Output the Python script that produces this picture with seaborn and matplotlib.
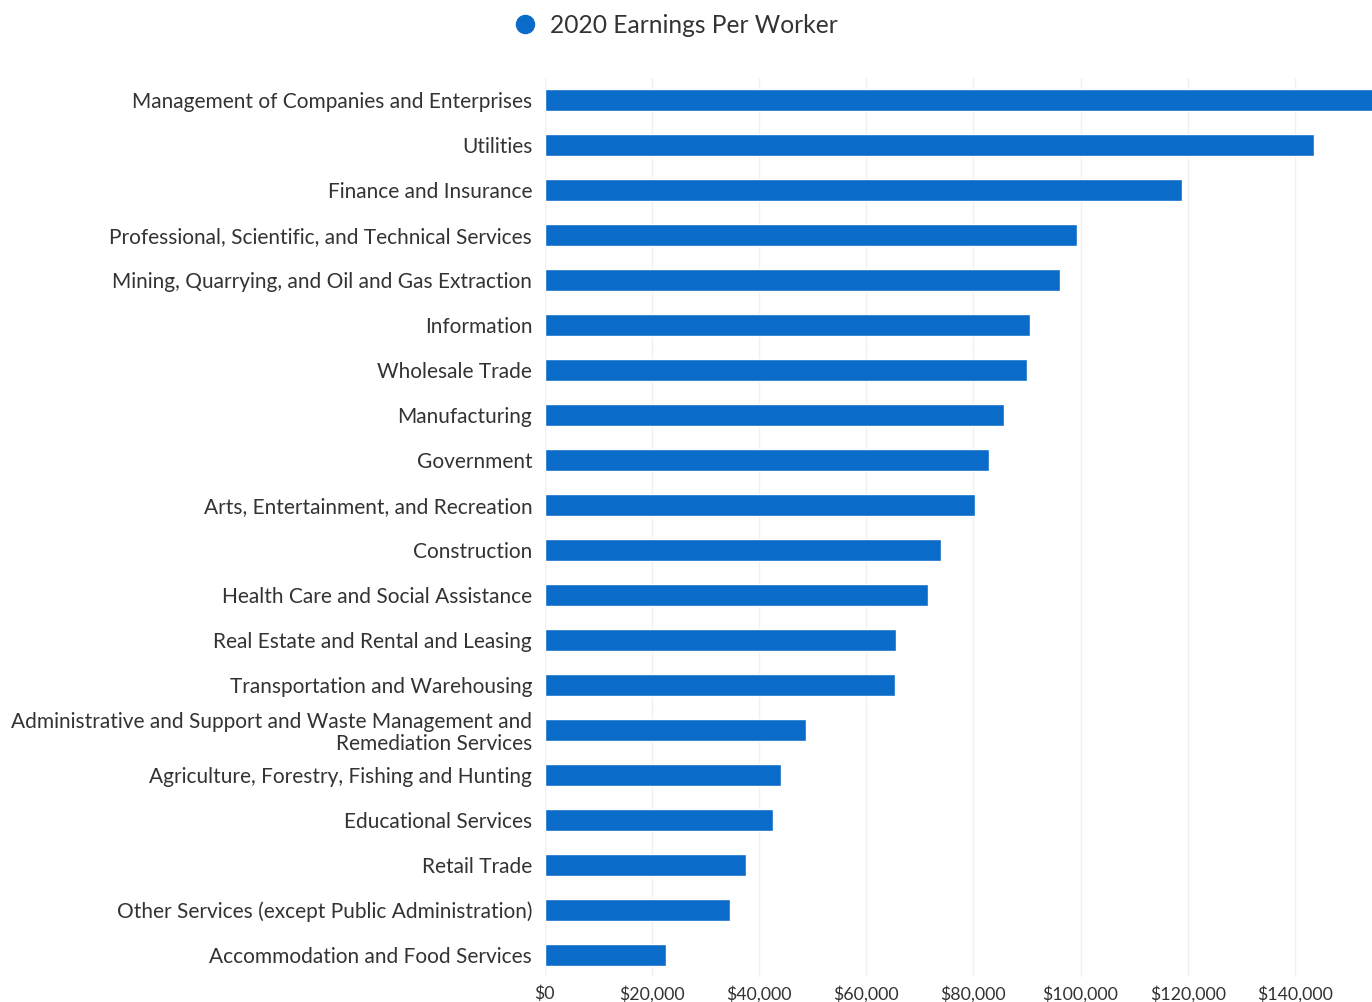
import matplotlib
matplotlib.use("Agg")
import matplotlib.pyplot as plt
from matplotlib.ticker import FuncFormatter
from matplotlib.lines import Line2D
import seaborn as sns
import pandas as pd

industries = [
    "Management of Companies and Enterprises",
    "Utilities",
    "Finance and Insurance",
    "Professional, Scientific, and Technical Services",
    "Mining, Quarrying, and Oil and Gas Extraction",
    "Information",
    "Wholesale Trade",
    "Manufacturing",
    "Government",
    "Arts, Entertainment, and Recreation",
    "Construction",
    "Health Care and Social Assistance",
    "Real Estate and Rental and Leasing",
    "Transportation and Warehousing",
    "Administrative and Support and Waste Management and\nRemediation Services",
    "Agriculture, Forestry, Fishing and Hunting",
    "Educational Services",
    "Retail Trade",
    "Other Services (except Public Administration)",
    "Accommodation and Food Services",
]
earnings = [
    158000, 143500, 119000, 99300, 96100, 90500, 90100, 85700, 83000, 80400,
    73900, 71500, 65500, 65300, 48800, 44100, 42700, 37600, 34600, 22700,
]
x_ticks = [0, 20000, 40000, 60000, 80000, 100000, 120000, 140000]
series_name = "2020 Earnings Per Worker"

df = pd.DataFrame({"industry": industries, "earnings": earnings})

sns.set_theme(style="white")
plt.rcParams["font.family"] = ["Lato", "DejaVu Sans"]

bar_color = "#0a6bc8"
text_color = "#333333"

fig = plt.figure(figsize=(13.72, 10.02), dpi=100)
ax = fig.add_axes([0.397, 0.0245, 0.603, 0.898])

sns.barplot(data=df, x="earnings", y="industry", orient="h", color=bar_color,
            width=0.5, saturation=1, ax=ax)

ax.set_xlim(0, 154400)
ax.set_ylim(len(industries) - 0.5, -0.5)
ax.set_xticks(x_ticks)
ax.xaxis.set_major_formatter(FuncFormatter(lambda v, p: f"${v:,.0f}"))
ax.grid(axis="x", color="#f0f0f0", linewidth=1)
ax.set_axisbelow(True)
for s in ax.spines.values():
    s.set_visible(False)
ax.set_xlabel("")
ax.set_ylabel("")
ax.tick_params(axis="y", length=0, pad=9, labelsize=15, labelcolor=text_color)
ax.tick_params(axis="x", length=0, pad=6, labelsize=12.8, labelcolor=text_color)
for lab in ax.get_yticklabels():
    lab.set_horizontalalignment("right")
    lab.set_linespacing(1.15)

handle = Line2D([], [], marker="o", linestyle="none", markersize=13,
                markerfacecolor=bar_color, markeredgecolor=bar_color)
fig.legend([handle], [series_name], loc="center", bbox_to_anchor=(0.492, 0.975),
           frameon=False, fontsize=17.7, handletextpad=0.5, labelcolor=text_color,
           handlelength=1.0)

fig.savefig("out.png", dpi=100, facecolor="white")
